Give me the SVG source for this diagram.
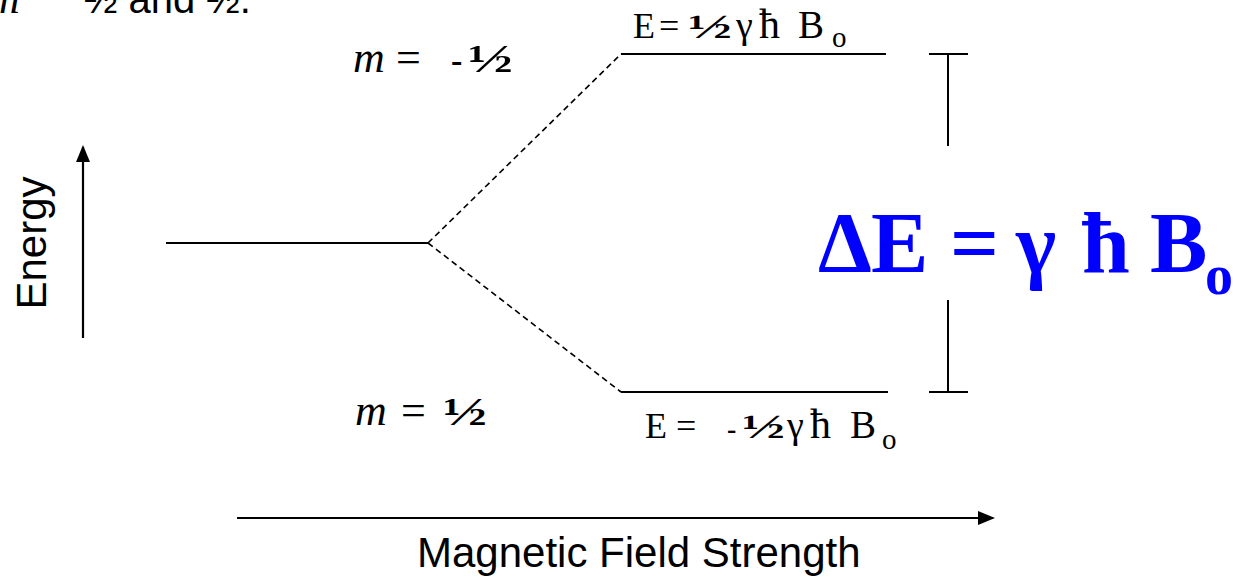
<svg xmlns="http://www.w3.org/2000/svg" width="1239" height="576" viewBox="0 0 1239 576">
<style>
.sans{font-family:"Liberation Sans",Arial,sans-serif;fill:#000}
.serif{font-family:"Liberation Serif","Times New Roman",serif;fill:#000}
.it{font-style:italic}
.b{font-weight:bold}
.lvl{stroke:#000;stroke-width:2;fill:none}
.dash{stroke:#000;stroke-width:1.6;stroke-dasharray:6 4;fill:none}
.axis{stroke:#000;stroke-width:2.2;fill:none}
.blue{font-family:"Liberation Serif","Times New Roman",serif;font-weight:bold;fill:#0000FF}
</style>
<defs>
<marker id="ah" markerUnits="userSpaceOnUse" markerWidth="17" markerHeight="14" refX="15" refY="7" orient="auto"><path d="M0,0 L17,7 L0,14 z" fill="#000"/></marker>
</defs>
<rect width="1239" height="576" fill="#fff"/>

<g id="caption-fragment">
<text y="13"><tspan class="serif it" x="-12" font-size="44">m</tspan><tspan class="sans" x="84" font-size="40">½ and ½.</tspan></text>
</g>

<g id="connectors">
<line class="axis" x1="83" y1="338" x2="83" y2="147" marker-end="url(#ah)"/>
<line class="axis" x1="237" y1="518" x2="993" y2="518" marker-end="url(#ah)"/>
<line class="dash" x1="428" y1="243" x2="621" y2="54"/>
<line class="dash" x1="428" y1="243" x2="621" y2="392"/>
</g>

<g id="level-zero"><line class="lvl" x1="166" y1="243" x2="428" y2="243"/></g>
<g id="level-upper"><line class="lvl" x1="621" y1="54" x2="886" y2="54"/></g>
<g id="level-lower"><line class="lvl" x1="621" y1="392" x2="888" y2="392"/></g>

<g id="bracket">
<line class="lvl" x1="929" y1="54" x2="968" y2="54"/>
<line class="lvl" x1="948" y1="54" x2="948" y2="146"/>
<line class="lvl" x1="948" y1="300" x2="948" y2="392"/>
<line class="lvl" x1="929" y1="392" x2="968" y2="392"/>
</g>

<g id="label-m-upper">
<text class="serif" y="72"><tspan class="it" x="353" font-size="44">m</tspan><tspan x="396" font-size="44">=</tspan><tspan class="b" x="451" font-size="34">-</tspan></text>
<text class="serif b" x="468" y="72" font-size="39" textLength="45" lengthAdjust="spacingAndGlyphs">½</text>
</g>

<g id="label-m-lower">
<text class="serif" y="425"><tspan class="it" x="355" font-size="44">m</tspan><tspan x="401" font-size="44">=</tspan></text>
<text class="serif b" x="443" y="425" font-size="39" textLength="44" lengthAdjust="spacingAndGlyphs">½</text>
</g>

<g id="label-e-upper">
<text class="serif" y="38" font-size="36"><tspan x="633">E</tspan><tspan x="659">=</tspan><tspan x="736" font-size="38">γ</tspan><tspan x="759" font-size="42">ħ</tspan><tspan x="798" font-size="39">B</tspan></text>
<text class="serif b" x="688" y="38" font-size="33" textLength="44" lengthAdjust="spacingAndGlyphs">½</text>
<text class="serif" x="832" y="47" font-size="29">o</text>
</g>

<g id="label-e-lower">
<text class="serif" y="438" font-size="36"><tspan x="645">E</tspan><tspan x="676">=</tspan><tspan class="b" x="727" font-size="28">-</tspan><tspan x="787" font-size="38">γ</tspan><tspan x="810" font-size="42">ħ</tspan><tspan x="850" font-size="39">B</tspan></text>
<text class="serif b" x="742" y="438" font-size="33" textLength="43" lengthAdjust="spacingAndGlyphs">½</text>
<text class="serif" x="882" y="449" font-size="29">o</text>
</g>

<g id="delta-e">
<text class="blue" y="272" font-size="86"><tspan x="818">Δ</tspan><tspan x="871">E</tspan><tspan x="950">=</tspan><tspan x="1016">γ</tspan><tspan x="1082">ħ</tspan><tspan x="1150">B</tspan></text>
<text class="blue" x="1205" y="294" font-size="56">o</text>
</g>

<g id="axis-energy">
<text class="sans" font-size="42" text-anchor="middle" transform="translate(46,243) rotate(-90)">Energy</text>
</g>

<g id="axis-field">
<text class="sans" x="417" y="567" font-size="42">Magnetic Field Strength</text>
</g>
</svg>
